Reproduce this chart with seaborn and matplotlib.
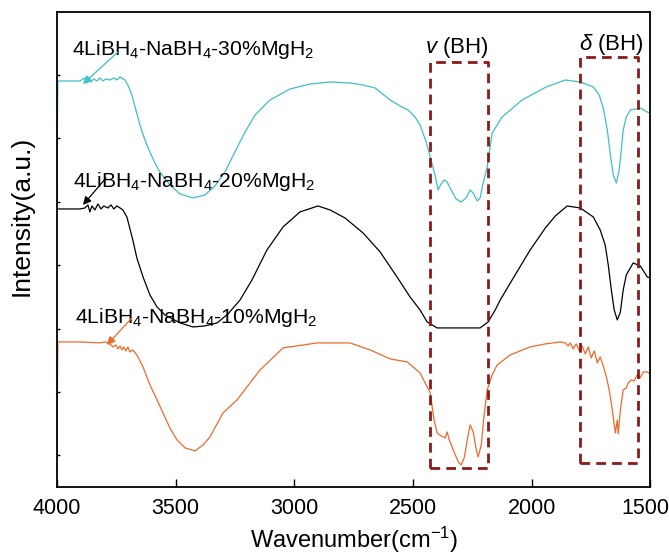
import numpy as np
import pandas as pd
import matplotlib
matplotlib.use("Agg")
import matplotlib.pyplot as plt
import matplotlib.transforms as mtransforms
import seaborn as sns

# wavenumber (cm-1) and intensity (a.u.)
wn_30 = [4000, 3996, 3945, 3903, 3882, 3874, 3865, 3857, 3844, 3831, 3819, 3806, 3793, 3777,
         3760, 3747, 3734, 3713, 3701, 3684, 3667, 3650, 3629, 3608, 3587, 3566, 3524, 3481,
         3427, 3376, 3334, 3292, 3250, 3207, 3165, 3102, 3018, 2933, 2849, 2765, 2710, 2659,
         2638, 2596, 2554, 2520, 2491, 2470, 2444, 2427, 2407, 2394, 2381, 2368, 2356, 2339,
         2318, 2297, 2276, 2259, 2246, 2229, 2217, 2204, 2187, 2166, 2124, 2040, 1939, 1858,
         1795, 1740, 1715, 1698, 1681, 1668, 1656, 1643, 1631, 1622, 1614, 1601, 1584, 1563,
         1542, 1513, 1500]
int_30 = [287, 406, 406, 406, 409, 404, 410, 405, 408, 406, 409, 406, 408, 407,
          409, 407, 410, 407, 402, 392, 377, 362, 347, 335, 324, 315, 302, 293,
          289, 292, 301, 315, 335, 355, 372, 387, 398, 403, 405, 404, 402, 399,
          395, 387, 381, 377, 370, 362, 345, 330, 312, 297, 303, 307, 305, 297,
          288, 285, 289, 297, 294, 286, 289, 304, 320, 354, 370, 387, 400, 407,
          405, 400, 392, 379, 357, 332, 312, 304, 317, 337, 357, 370, 377, 378,
          379, 375, 374]

wn_20 = [4000, 3903, 3882, 3869, 3861, 3852, 3840, 3827, 3814, 3802, 3785, 3772, 3760, 3747,
         3734, 3722, 3705, 3680, 3663, 3637, 3608, 3578, 3545, 3481, 3427, 3376, 3325, 3279,
         3228, 3178, 3115, 3047, 2976, 2900, 2849, 2786, 2710, 2638, 2567, 2512, 2470, 2440,
         2398, 2301, 2217, 2183, 2153, 2132, 2082, 2006, 1942, 1900, 1850, 1795, 1740, 1711,
         1690, 1677, 1664, 1652, 1639, 1626, 1614, 1601, 1572, 1542, 1513, 1500]
int_20 = [278, 278, 279, 282, 275, 281, 277, 283, 278, 281, 279, 282, 278, 281,
          279, 277, 270, 247, 229, 210, 192, 180, 172, 164, 160, 161, 164, 173,
          187, 207, 237, 260, 275, 281, 277, 269, 254, 235, 210, 190, 177, 165,
          159, 159, 159, 165, 177, 187, 207, 237, 259, 271, 281, 279, 270, 257,
          242, 222, 197, 177, 167, 175, 197, 212, 224, 221, 210, 209]

wn_10 = [4000, 3996, 3903, 3819, 3798, 3785, 3772, 3764, 3751, 3743, 3734, 3726, 3718, 3709,
         3701, 3692, 3680, 3663, 3637, 3608, 3578, 3553, 3524, 3494, 3460, 3418, 3384, 3355,
         3300, 3241, 3144, 3047, 2904, 2765, 2680, 2596, 2524, 2470, 2427, 2411, 2398, 2381,
         2364, 2356, 2347, 2330, 2309, 2297, 2284, 2271, 2259, 2246, 2233, 2225, 2212, 2200,
         2187, 2166, 2145, 2090, 2006, 1942, 1879, 1858, 1846, 1837, 1825, 1812, 1799, 1787,
         1774, 1761, 1749, 1736, 1723, 1711, 1698, 1686, 1673, 1660, 1652, 1647, 1639, 1635,
         1626, 1614, 1601, 1593, 1580, 1568, 1555, 1542, 1530, 1513, 1500]
int_10 = [19, 145, 145, 144, 145, 144, 142, 140, 142, 138, 141, 137, 140, 136,
          140, 135, 137, 132, 120, 102, 87, 74, 59, 47, 39, 36, 42, 50,
          74, 87, 117, 139, 144, 144, 137, 128, 125, 114, 94, 67, 54, 51,
          49, 55, 47, 37, 25, 22, 29, 47, 62, 55, 37, 30, 42, 72,
          97, 112, 122, 132, 140, 143, 145, 144, 141, 144, 138, 143, 136, 141,
          133, 140, 129, 136, 124, 130, 121, 111, 97, 77, 62, 54, 67, 53,
          77, 97, 99, 104, 107, 106, 112, 109, 115, 115, 113]

names = ["4LiBH$_4$-NaBH$_4$-30%MgH$_2$", "4LiBH$_4$-NaBH$_4$-20%MgH$_2$",
         "4LiBH$_4$-NaBH$_4$-10%MgH$_2$"]
colors = ["#3fbfc6", "#000000", "#ee6a2c"]

sns.set_style("ticks")
plt.rcParams["font.family"] = ["Liberation Sans", "DejaVu Sans"]
plt.rcParams["mathtext.fontset"] = "custom"
plt.rcParams["mathtext.rm"] = "Liberation Sans"
plt.rcParams["mathtext.it"] = "Liberation Sans:italic"
plt.rcParams["mathtext.default"] = "regular"
for k in ["text.color", "axes.labelcolor", "xtick.color", "ytick.color", "axes.edgecolor"]:
    plt.rcParams[k] = "black"

fig = plt.figure(figsize=(6.69, 5.59), dpi=100)
ax = fig.add_axes([0.085, 0.129, 0.887, 0.8495])

series = [(wn_30, int_30), (wn_20, int_20), (wn_10, int_10)]
for (w, v), c in zip(series, colors):
    df = pd.DataFrame({"wn": w, "I": v})
    sns.lineplot(data=df, x="wn", y="I", sort=False, estimator=None,
                 color=c, lw=0.9, ax=ax)

# labels with arrows
label_pos = [(3937, 432), (3933, 300), (3924, 164)]
arrow_tail = [(3743, 435), (3793, 309), (3684, 169)]
arrow_head = [(3890, 403), (3890, 282), (3789, 142)]
for n, c, lp, t, h in zip(names, colors, label_pos, arrow_tail, arrow_head):
    ax.text(lp[0], lp[1], n, fontsize=15.2, ha="left", va="baseline")
    ax.annotate("", xy=h, xytext=t,
                arrowprops=dict(arrowstyle="-|>", color=c, lw=0.9,
                                mutation_scale=12, shrinkA=0, shrinkB=0))

# dashed boxes
box_col = "#8b1a1a"
for x0, x1, y0, y1 in [(2427, 2183, 19, 425), (1795, 1550, 24, 430)]:
    ax.plot([x0, x0, x1, x1, x0], [y0, y1, y1, y0, y0], color=box_col,
            lw=2, ls=(0, (3.5, 2.2)))
ax.text(2313, 434, r"$\mathit{v}$ (BH)", fontsize=16, ha="center", va="baseline")
ax.text(1664, 437, r"$\mathit{\delta}$ (BH)", fontsize=16, ha="center", va="baseline")

ax.set_xlim(4000, 1500)
ax.set_ylim(0, 475)
ax.set_xticks([4000, 3500, 3000, 2500, 2000, 1500])
ax.set_yticks([32, 95, 158, 222, 285, 349, 412])
ax.set_yticklabels([])
ax.tick_params(axis="x", direction="in", length=6, width=1, labelsize=15.5, pad=8)
ax.tick_params(axis="y", direction="in", length=2.5, width=1)
for s in ax.spines.values():
    s.set_visible(True)
    s.set_linewidth(1.3)
ax.set_xlabel("Wavenumber(cm$^{-1}$)", fontsize=17, labelpad=4)
ax.set_ylabel("Intensity(a.u.)", fontsize=19)
ax.yaxis.set_label_coords(-0.04, 0.57)

# keep the last tick label inside the canvas
last = ax.get_xticklabels()[-1]
last.set_transform(last.get_transform() +
                   mtransforms.ScaledTranslation(-5 / 100, 0, fig.dpi_scale_trans))

fig.savefig("out.png", dpi=100)
